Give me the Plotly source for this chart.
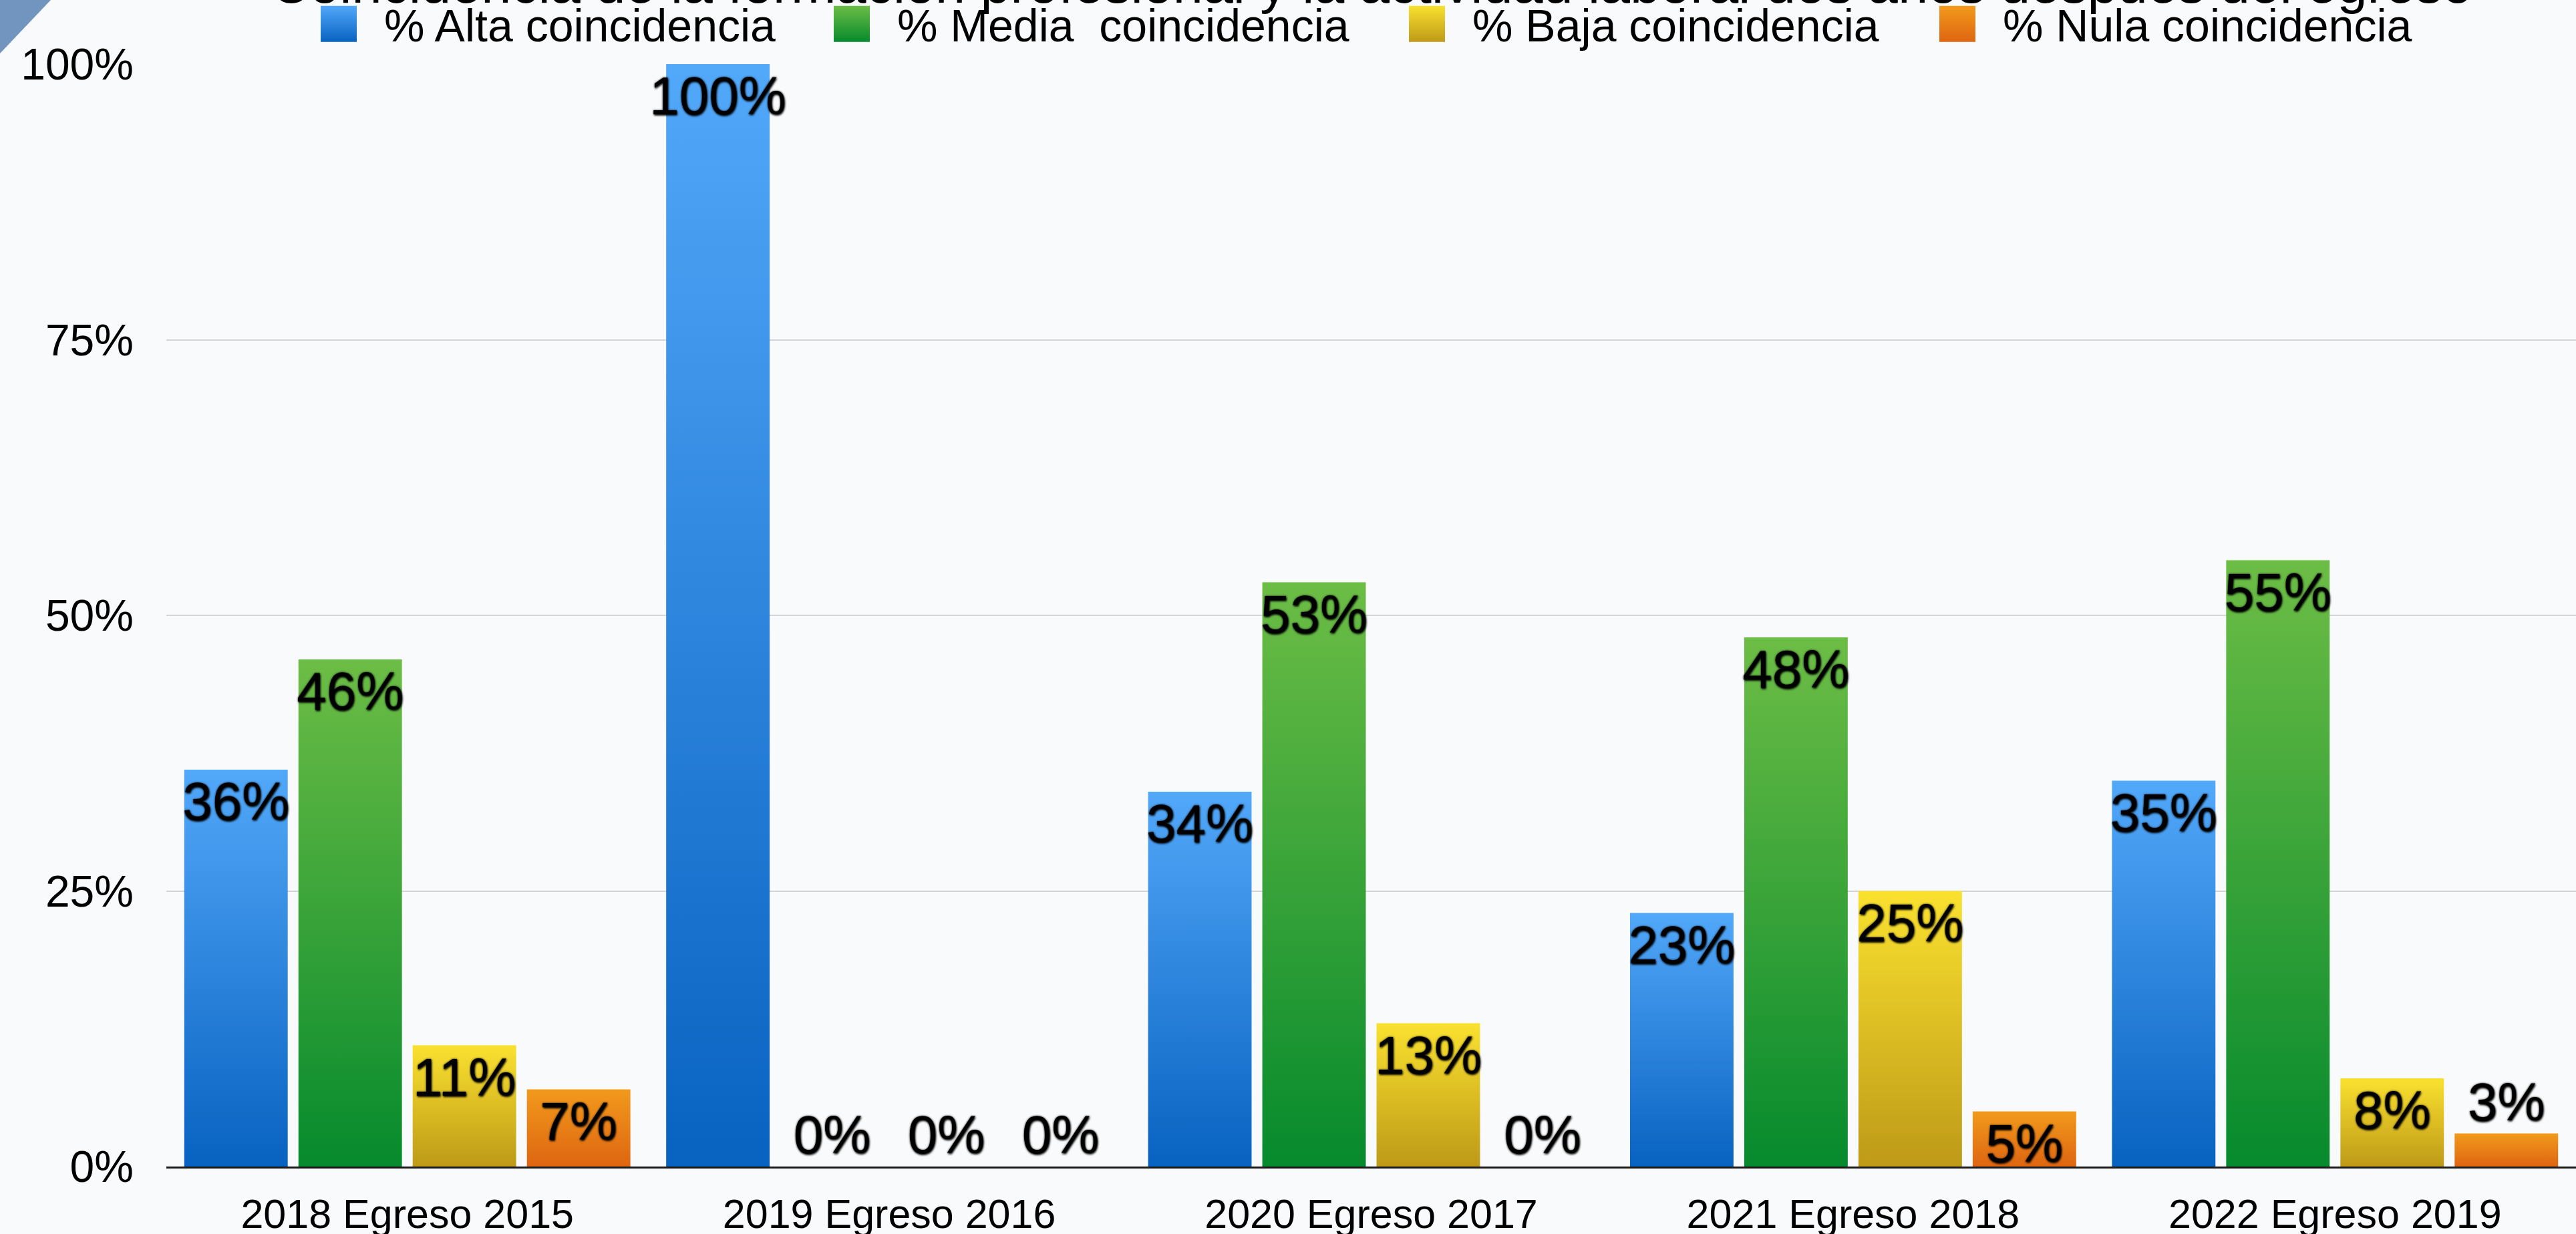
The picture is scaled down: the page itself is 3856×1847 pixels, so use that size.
import plotly.graph_objects as go

categories = ["2018 Egreso 2015", "2019 Egreso 2016", "2020 Egreso 2017",
              "2021 Egreso 2018", "2022 Egreso 2019"]
series_names = ["% Alta coincidencia", "% Media  coincidencia",
                "% Baja coincidencia", "% Nula coincidencia"]
alta = [36, 100, 34, 23, 35]
media = [46, 0, 53, 48, 55]
baja = [11, 0, 13, 25, 8]
nula = [7, 0, 0, 5, 3]
y_ticks = [0, 25, 50, 75, 100]
y_tick_labels = ["0%", "25%", "50%", "75%", "100%"]
title_text = "Coincidencia de la formación profesional y la actividad laboral dos años después del egreso"

series_values = [alta, media, baja, nula]
mid_colors = ["rgb(44, 132, 220)", "rgb(56, 164, 57)", "rgb(221, 190, 36)", "rgb(231, 127, 22)"]
legend_ids = ["legend", "legend2", "legend3", "legend4"]

W, H = 3856, 1847
ML, MR, MT, MB = 249, 0, 96, 101
PW = W - ML - MR
PH = H - MT - MB

def px_x(px):
    return (px - ML) / PW

def px_y(py):
    return 1 - (py - MT) / PH

label_font = dict(family="Liberation Sans, Arial, sans-serif", size=80, color="black",
                  shadow="1px 2px 3px rgba(0,0,0,0.9), 0px 0px 3px rgba(0,0,0,0.85)")

fig = go.Figure()
for name, vals, col, lg in zip(series_names, series_values, mid_colors, legend_ids):
    fig.add_trace(go.Bar(
        x=categories, y=vals, name=name, legend=lg,
        marker=dict(color=col, line=dict(width=0)),
        text=[f"{v}%" for v in vals],
        textposition=["inside" if v >= 5 else "outside" for v in vals],
        insidetextanchor="end",
        textangle=0,
        constraintext="none",
        textfont=label_font,
        outsidetextfont=label_font,
        cliponaxis=False,
        hoverinfo="skip",
    ))

font_family = "Liberation Sans, Arial, Helvetica, sans-serif"

# legend positions (left of swatch in px)
swatch_left = [480, 1248, 2109, 2903]
ITEMW = 126
layout_legends = {}
for lg, sl in zip(legend_ids, swatch_left):
    layout_legends[lg] = dict(
        orientation="h", x=px_x(sl - 41), xanchor="left", xref="paper",
        y=px_y(-15), yanchor="top", yref="paper",
        font=dict(family=font_family, size=68, color="black"),
        bgcolor="rgba(0,0,0,0)", borderwidth=0, itemwidth=ITEMW,
        itemclick=False, itemdoubleclick=False,
    )

fig.update_layout(
    width=W, height=H,
    margin=dict(l=ML, r=MR, t=MT, b=MB, pad=0, autoexpand=False),
    paper_bgcolor="#F9FAFB",
    plot_bgcolor="rgba(0,0,0,0)",
    barmode="group",
    bargap=0.052,
    bargroupgap=0.094,
    showlegend=True,
    font=dict(family=font_family, color="black"),
    xaxis=dict(
        showgrid=False, showline=True, linecolor="#1a1a1a", linewidth=3,
        ticks="", tickfont=dict(size=61, color="black"), ticklabelstandoff=16,
        fixedrange=True, automargin=False,
    ),
    yaxis=dict(
        range=[0, 100], tickvals=y_ticks, ticktext=y_tick_labels,
        showgrid=True, gridcolor="rgb(212,212,216)", gridwidth=2,
        zeroline=False, showline=False, ticks="",
        tickfont=dict(size=66, color="black"), ticklabelstandoff=48,
        fixedrange=True, automargin=False,
    ),
    shapes=[dict(
        type="path", xref="paper", yref="paper", layer="below",
        path=(f"M {px_x(-20)},{px_y(-20)} L {px_x(95)},{px_y(-20)} "
              f"L {px_x(-20)},{px_y(101)} Z"),
        fillcolor="#7295BF", line=dict(width=0),
    )],
    annotations=[dict(
        text=title_text, xref="paper", yref="paper", x=0.5, y=1,
        xanchor="center", yanchor="bottom", yshift=73, showarrow=False,
        font=dict(family=font_family, size=81, color="black"),
    )],
    **layout_legends,
)

post_script = r"""
(function(){
document.body.style.margin = '0';
document.body.style.padding = '0';
document.body.style.overflow = 'hidden';
var gd = document.getElementById('{plot_id}');
var mids = ['rgb(44, 132, 220)','rgb(56, 164, 57)','rgb(221, 190, 36)','rgb(231, 127, 22)'];
var tops = ['#52A8F9','#6CBD45','#FAE12F','#F29A1C'];
var bots = ['#0862C0','#068A2D','#BE9A18','#DE6511'];
var ns = 'http://www.w3.org/2000/svg';
function apply(){
  try {
    var svg = gd.querySelector('svg.main-svg');
    if(!svg) return;
    var defs = svg.querySelector('defs');
    if(!defs){ defs = document.createElementNS(ns,'defs'); svg.insertBefore(defs, svg.firstChild); }
    for (var i=0;i<4;i++){
      if (document.getElementById('bgrad'+i)) continue;
      var lg = document.createElementNS(ns,'linearGradient');
      lg.setAttribute('id','bgrad'+i);
      lg.setAttribute('x1','0'); lg.setAttribute('y1','0');
      lg.setAttribute('x2','0'); lg.setAttribute('y2','1');
      var s1 = document.createElementNS(ns,'stop');
      s1.setAttribute('offset','0'); s1.setAttribute('stop-color', tops[i]);
      var s2 = document.createElementNS(ns,'stop');
      s2.setAttribute('offset','1'); s2.setAttribute('stop-color', bots[i]);
      lg.appendChild(s1); lg.appendChild(s2); defs.appendChild(lg);
    }
    gd.querySelectorAll('g.legendpoints path').forEach(function(p){
      p.setAttribute('d','M27,27H-27V-27H27Z');
    });
    gd.querySelectorAll('path').forEach(function(p){
      var f = p.style.fill;
      var k = mids.indexOf(f);
      if (k >= 0) { p.style.fill = 'url(#bgrad'+k+')'; }
    });
  } catch(e) {}
}
apply();
setTimeout(apply, 50);
if (gd && gd.on) gd.on('plotly_afterplot', apply);
})();
"""

fig.write_html("out.html", post_script=post_script, config={"displayModeBar": False})
